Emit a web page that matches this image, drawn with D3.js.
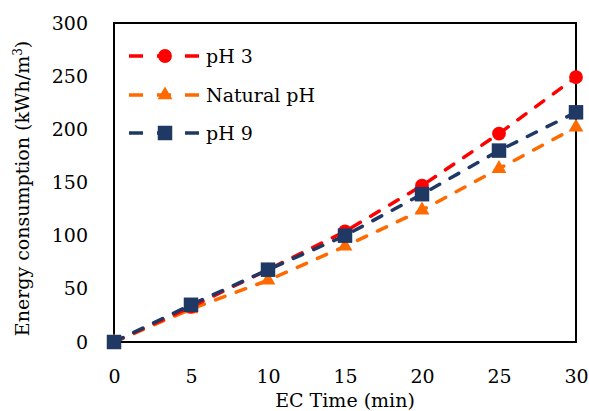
<!DOCTYPE html>
<html><head><meta charset="utf-8">
<script src="https://cdn.jsdelivr.net/npm/d3@7"></script>
<style>body{margin:0;background:#fff}svg{display:block}text{font-family:"DejaVu Serif","Liberation Serif",serif;fill:#000}</style>
</head><body>
<script>
const times = [0, 5, 10, 15, 20, 25, 30];
const ph3 = [0, 33, 68, 104, 147, 196, 249];
const phNatural = [0, 31, 58, 90, 124, 163, 202];
const ph9 = [0, 35, 68, 100, 139, 180, 216];
const xTicks = [0, 5, 10, 15, 20, 25, 30];
const yTicks = [0, 50, 100, 150, 200, 250, 300];
const seriesNames = ["pH 3", "Natural pH", "pH 9"];
const colors = ["#ff0000", "#ff6a00", "#1f3864"];
const shapes = [d3.symbolCircle, d3.symbolTriangle, d3.symbolSquare];

const W = 589, H = 411;
const m = {l: 114, r: 13, t: 23, b: 69};
const FS = "19px";
const svg = d3.select("body").append("svg").attr("width", W).attr("height", H);
const x = d3.scaleLinear().domain([0, 30]).range([m.l, W - m.r]);
const y = d3.scaleLinear().domain([0, 300]).range([H - m.b, m.t]);

svg.append("rect").attr("x", m.l).attr("y", m.t).attr("width", W - m.r - m.l).attr("height", H - m.b - m.t)
  .attr("fill", "none").attr("stroke", "#000").attr("stroke-width", 2);

const xa = svg.append("g").attr("transform", `translate(0,${H - m.b})`)
  .call(d3.axisBottom(x).tickValues(xTicks).tickSize(0).tickPadding(28));
xa.select(".domain").remove();
xa.selectAll("text").style("font-size", FS);
const ya = svg.append("g").attr("transform", `translate(${m.l},0)`)
  .call(d3.axisLeft(y).tickValues(yTicks).tickSize(0).tickPadding(26));
ya.select(".domain").remove();
ya.selectAll("text").style("font-size", FS);

svg.append("text").attr("x", (m.l + W - m.r) / 2).attr("y", 407).attr("text-anchor", "middle")
  .style("font-size", FS).text("EC Time (min)");
const yt = svg.append("text").attr("transform", `translate(29,${(m.t + H - m.b) / 2 + 6}) rotate(-90)`)
  .attr("text-anchor", "middle").style("font-size", FS);
yt.append("tspan").text("Energy consumption (kWh/m");
yt.append("tspan").attr("dy", -7).style("font-size", "12px").text("3");
yt.append("tspan").attr("dy", 7).text(")");

const data = [ph3, phNatural, ph9];
const line = d3.line().x((d, i) => x(times[i])).y(d => y(d));
const sizes = [150, 95, 210];
// draw in order: natural, pH3, pH9 so pH9 on top
[1, 0, 2].forEach(k => {
  svg.append("path").attr("d", line(data[k])).attr("fill", "none")
    .attr("stroke", colors[k]).attr("stroke-width", 3.5).attr("stroke-linecap", "round")
    .attr("stroke-dasharray", "10,12");
  svg.append("g").selectAll("path").data(data[k]).join("path")
    .attr("transform", (d, i) => `translate(${x(times[i])},${y(d)})`)
    .attr("d", d3.symbol().type(shapes[k]).size(sizes[k])).attr("fill", colors[k]);
});

const ly = [56, 95, 133];
seriesNames.forEach((n, k) => {
  const g = svg.append("g").attr("transform", `translate(0,${ly[k]})`);
  g.append("line").attr("x1", 129).attr("x2", 200).attr("stroke", colors[k])
    .attr("stroke-width", 3.5).attr("stroke-dasharray", "14,14");
  g.append("path").attr("transform", "translate(165,0)")
    .attr("d", d3.symbol().type(shapes[k]).size(sizes[k])).attr("fill", colors[k]);
  g.append("text").attr("x", 206).attr("dy", "0.35em").style("font-size", FS).text(n);
});
</script>
</body></html>
